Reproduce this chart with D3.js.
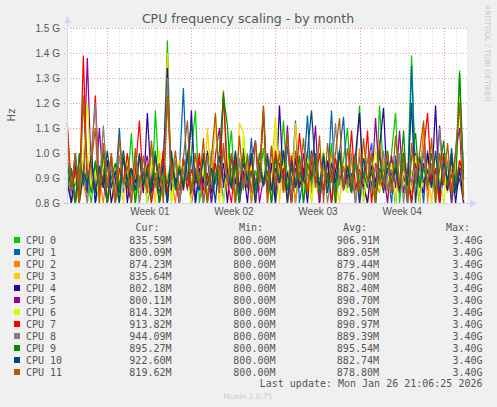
<!DOCTYPE html>
<html>
<head>
<meta charset="utf-8">
<script src="https://cdn.jsdelivr.net/npm/d3@7"></script>
<style>
  html, body { margin: 0; padding: 0; background: #f0f0f0; }
  svg { display: block; }
  text { fill: #555; }
</style>
</head>
<body>
<svg></svg>
<script>
// legend names and the summary numbers shown under the graph
const cpuNames = ["CPU 0","CPU 1","CPU 2","CPU 3","CPU 4","CPU 5","CPU 6","CPU 7","CPU 8","CPU 9","CPU 10","CPU 11"];
const curVals = ["835.59M","800.09M","874.23M","835.64M","802.18M","800.11M","814.32M","913.82M","944.09M","895.27M","922.60M","819.62M"];
const minVals = ["800.00M","800.00M","800.00M","800.00M","800.00M","800.00M","800.00M","800.00M","800.00M","800.00M","800.00M","800.00M"];
const avgVals = ["906.91M","889.05M","879.44M","876.90M","882.40M","890.70M","892.50M","890.97M","889.39M","895.54M","882.74M","878.80M"];
const maxVals = ["3.40G","3.40G","3.40G","3.40G","3.40G","3.40G","3.40G","3.40G","3.40G","3.40G","3.40G","3.40G"];
const colors = ["#00cc00","#0066b3","#ff8000","#ffcc00","#330099","#990099","#ccff00","#ff0000","#808080","#008f00","#00487d","#b35a00"];
const yTicks = [0.8e9, 0.9e9, 1.0e9, 1.1e9, 1.2e9, 1.3e9, 1.4e9, 1.5e9];

// samples every 8h from Dec 24 16:00 UTC, in MHz
const sampleStart = Date.UTC(2025, 11, 24, 16, 0);
const sampleStep = 8 * 3600 * 1000;

const cpu0 = [850,920,800,880,1230,900,800,960,840,1010, 800,940,870,800,990,860,1080,800,910,850,
  960,800,1170,880,930,1450,840,990,800,900, 870,1000,1170,800,920,800,1010,880,860,1250,
  940,1090,800,970,850,1000,800,930,880,1020, 840,960,800,910,1130,870,990,800,950,880,
  1010,840,930,800,980,860,1040,800,900,970, 1100,850,940,1190,800,990,880,800,1190,920,
  860,1000,1160,800,950,880,1390,900,800,1010, 870,940,800,1000,880,960,800,900,1330,836];
const cpu1 = [920,800,890,800,970,850,1000,800,880,940, 800,960,870,1100,840,910,800,990,860,930,
  800,880,1000,840,900,800,970,860,930,1260, 850,990,800,920,870,1010,800,900,950,800,
  980,860,900,800,1020,880,1060,800,940,870, 1000,800,900,960,840,1030,870,1130,800,910,
  1150,850,980,800,930,870,1170,840,1000,1145, 860,920,800,990,880,950,1040,800,1000,870,
  940,800,990,860,910,800,1350,880,950,800, 1010,870,930,800,980,860,1020,840,900,800];
const cpu2 = [1000,860,800,940,880,800,970,850,900,800, 950,870,800,920,1000,840,890,960,800,880,
  930,850,990,800,870,1200,900,800,960,860, 1010,800,890,940,800,980,870,1150,840,920,
  860,1000,800,930,880,960,800,900,850,1160, 800,940,880,1010,840,900,970,800,930,870,
  990,850,910,800,960,880,1000,800,940,860, 900,970,800,1020,870,800,950,890,840,980,
  860,930,800,990,880,920,840,1000,870,1100, 800,960,890,800,1000,850,930,880,970,874];
const cpu3 = [830,900,960,800,880,1000,850,920,800,970, 870,800,940,890,800,990,860,930,840,900,
  880,950,800,1000,860,1400,800,910,970,850, 920,840,990,870,800,1100,880,950,800,1010,
  860,900,800,1120,1080,850,930,800,960,1190, 870,940,1145,800,990,880,800,1120,900,860,
  950,800,1000,870,930,840,980,900,800,960, 880,1010,840,920,860,990,800,940,870,1000,
  800,910,960,850,1020,880,930,800,970,860, 940,800,1000,880,900,840,990,860,920,836];
const cpu4 = [880,800,950,870,910,840,1000,800,930,860, 970,800,900,850,1010,800,940,880,990,840,
  1160,870,920,800,960,1340,850,900,800,980, 860,1170,800,940,880,1000,840,910,870,960,
  800,990,880,850,930,800,1000,870,900,1170, 840,960,800,1190,880,920,800,980,860,940,
  800,1010,880,900,850,970,800,930,1000,860, 910,840,990,1160,870,800,950,880,1020,1180,
  850,930,800,1000,870,940,800,960,890,840, 1000,870,1190,800,910,850,980,800,940,802];
const cpu5 = [860,930,800,990,870,1380,900,840,1100,880, 800,960,890,840,1000,870,800,950,880,920,
  990,840,900,870,1010,800,960,880,930,850, 1000,800,890,970,850,920,800,990,1100,860,
  940,880,1000,800,910,860,970,1050,800,900, 870,1020,840,960,880,1110,800,940,870,1000,
  850,910,1110,800,980,870,920,800,990,880, 940,860,1000,800,900,970,850,1140,880,920,
  800,990,860,1090,840,930,880,1000,800,960, 870,910,840,1110,890,960,800,1000,1100,800];
const cpu6 = [940,850,900,800,980,1200,870,930,800,960, 880,1000,840,910,860,990,800,950,870,900,
  800,970,890,1010,850,920,800,980,860,940, 880,800,1000,870,930,840,960,1120,890,800,
  990,860,920,840,1080,880,950,800,1000,870, 910,840,1120,890,960,800,1000,870,920,850,
  980,800,940,880,1010,860,900,800,970,890, 840,1000,870,930,800,960,890,1020,850,920,
  880,960,800,1000,870,910,850,990,800,940, 890,1000,860,920,800,980,870,940,1220,814];
const cpu7 = [1120,860,930,800,1390,880,960,1230,840,910, 870,990,800,940,880,1000,850,920,1130,860,
  950,800,900,870,1010,840,960,890,800,980, 860,930,880,1000,800,910,870,960,840,1240,
  890,800,970,860,1000,880,930,800,960,870, 920,850,1010,880,940,800,990,870,1080,900,
  840,970,880,1000,860,920,800,980,890,940, 870,1090,850,930,880,1090,800,960,900,850,
  1000,870,930,840,980,890,800,960,870,1010, 1160,880,940,800,1000,870,910,850,970,914];
const cpu8 = [900,840,980,870,930,800,1000,1200,860,1110, 880,950,800,990,870,910,850,1000,800,940,
  890,1010,860,930,840,1300,880,970,800,920, 1000,860,940,880,800,990,870,920,850,1010,
  880,940,800,980,860,920,1000,840,900,870, 970,800,930,880,1010,850,940,870,990,800,
  920,880,1000,850,960,800,910,1120,870,940, 860,1000,800,920,880,980,840,950,870,1010,
  850,930,890,1000,800,960,870,940,880,1020, 860,950,800,1100,880,970,850,1000,1200,944];
const cpu9 = [870,940,800,1000,880,920,840,970,860,1010, 800,900,960,850,1000,870,930,800,990,880,
  940,860,1010,800,910,880,980,850,950,870, 1000,840,920,870,980,800,940,890,1010,1230,
  1110,860,950,800,990,880,920,850,1000,870, 930,800,980,880,1010,850,940,870,990,800,
  960,890,1000,840,1000,880,930,800,1010,870, 950,840,990,880,920,860,1000,800,940,890,
  1010,850,960,870,1090,800,980,1080,860,940, 880,1000,850,930,1050,870,990,840,1320,895];
const cpu10 = [960,850,1000,800,920,880,990,840,950,870, 1010,860,930,800,980,890,940,850,1000,870,
  920,840,990,880,950,800,1010,870,930,860, 980,1120,900,850,1000,870,940,800,990,880,
  930,860,1010,840,960,890,1000,800,950,870, 990,850,940,880,1010,800,970,860,920,890,
  1000,1170,930,870,990,840,960,880,1010,850, 940,870,1000,800,980,890,920,860,1010,840,
  970,880,940,850,1000,870,1200,800,990,880, 930,860,1010,840,960,890,1000,850,940,923];
const cpu11 = [1080,850,1000,800,1220,900,960,1100,800,1040, 870,1000,800,1060,880,950,800,1020,860,990,
  840,1050,870,960,800,1230,890,1010,850,980, 1130,840,1000,870,1060,800,980,1160,860,1040,
  880,1000,800,1070,860,990,840,1050,880,1190, 800,1030,870,1000,850,1080,800,1010,890,1060,
  840,1000,860,1070,800,1040,880,1000,1140,850, 1020,870,990,840,1060,880,1000,800,1050,860,
  1000,840,1070,870,990,800,1040,880,1000,1130, 850,1060,800,1000,870,1040,840,1010,1200,820];

const cpuSeries = [cpu0, cpu1, cpu2, cpu3, cpu4, cpu5, cpu6, cpu7, cpu8, cpu9, cpu10, cpu11];

const width = 497;
const height = 407;
const plotLeft = 67, plotRight = 467, plotTop = 28, plotBottom = 203;

const svg = d3.select("svg")
   .attr("width", width)
   .attr("height", height)
   .style("font-family", "'DejaVu Sans', sans-serif");

svg.append("rect").attr("width", width).attr("height", height).attr("fill", "#f0f0f0");
svg.append("rect")
   .attr("x", plotLeft).attr("y", plotTop)
   .attr("width", plotRight - plotLeft).attr("height", plotBottom - plotTop)
   .attr("fill", "#ffffff");

const x = d3.scaleUtc()
   .domain([new Date(Date.UTC(2025, 11, 24, 15, 22)), new Date(Date.UTC(2026, 0, 26, 22, 48))])
   .range([plotLeft, plotRight]);

const y = d3.scaleLinear()
   .domain([0.8e9, 1.5e9])
   .range([plotBottom, plotTop]);

const isSunday = d => d3.utcSunday.floor(d) - d === 0;

// vertical grid: every day grey, every sunday red
const days = d3.utcDay.range(x.domain()[0], x.domain()[1]);
svg.append("g").selectAll("line")
   .data(days)
   .join("line")
   .attr("x1", d => Math.round(x(d)) + 0.5)
   .attr("x2", d => Math.round(x(d)) + 0.5)
   .attr("y1", plotTop)
   .attr("y2", d => plotBottom + (isSunday(d) ? 2 : 0))
   .attr("stroke", d => isSunday(d) ? "#e4a0a0" : "#d8d8d8")
   .attr("stroke-dasharray", "1,2");

// horizontal grid
svg.append("g").selectAll("line")
   .data(yTicks)
   .join("line")
   .attr("x1", plotLeft - 3)
   .attr("x2", plotRight)
   .attr("y1", d => Math.round(y(d)) + 0.5)
   .attr("y2", d => Math.round(y(d)) + 0.5)
   .attr("stroke", "#e4a0a0")
   .attr("stroke-dasharray", "1,2");

// the cpu lines, CPU 0 first so CPU 11 ends up on top
const line = d3.line()
   .x((d, i) => x(new Date(sampleStart + i * sampleStep)))
   .y(d => y(d * 1e6));

const plot = svg.append("g");
cpuSeries.forEach((s, k) => {
   plot.append("path")
      .attr("d", line(s))
      .attr("fill", "none")
      .attr("stroke", colors[k])
      .attr("stroke-width", 1.25);
});

// axes
const yAxis = svg.append("g")
   .attr("transform", `translate(${plotLeft - 4},0)`)
   .call(d3.axisLeft(y).tickValues(yTicks).tickSize(0).tickPadding(3)
      .tickFormat(d => (d / 1e9).toFixed(1) + " G"));
yAxis.select(".domain").remove();
yAxis.selectAll("text").attr("font-size", 10).attr("fill", "#555");

const weekMids = d3.utcSunday.range(d3.utcSunday.offset(x.domain()[0], -1), x.domain()[1])
   .map(d => d3.utcHour.offset(d, 84))
   .filter(d => d > x.domain()[0] && d < x.domain()[1]);
const xAxis = svg.append("g")
   .attr("transform", `translate(0,${plotBottom})`)
   .call(d3.axisBottom(x).tickValues(weekMids).tickSize(0).tickPadding(5)
      .tickFormat(d3.utcFormat("Week %V")));
xAxis.select(".domain").remove();
xAxis.selectAll("text").attr("font-size", 10).attr("fill", "#555");

const axisColor = "#cfd6f8";
svg.append("line").attr("x1", plotLeft + 0.5).attr("x2", plotLeft + 0.5).attr("y1", plotBottom + 2).attr("y2", plotTop - 6)
   .attr("stroke", axisColor);
svg.append("line").attr("x1", plotLeft - 2).attr("x2", plotRight + 5).attr("y1", plotBottom + 0.5).attr("y2", plotBottom + 0.5)
   .attr("stroke", axisColor);
svg.append("path").attr("d", `M${plotLeft - 3},${plotTop - 5} L${plotLeft + 0.5},${plotTop - 12} L${plotLeft + 4},${plotTop - 5} Z`)
   .attr("fill", axisColor);
svg.append("path").attr("d", `M${plotRight + 3},${plotBottom - 3.5} L${plotRight + 10},${plotBottom + 0.5} L${plotRight + 3},${plotBottom + 4.5} Z`)
   .attr("fill", axisColor);

// titles
svg.append("text")
   .attr("x", 248).attr("y", 23)
   .attr("text-anchor", "middle")
   .attr("font-size", 12.5)
   .attr("fill", "#555")
   .text("CPU frequency scaling - by month");

svg.append("text")
   .attr("transform", "translate(15,115) rotate(-90)")
   .attr("text-anchor", "middle")
   .attr("font-size", 10)
   .attr("fill", "#555")
   .text("Hz");

svg.append("text")
   .attr("transform", "translate(485,5) rotate(90)")
   .attr("font-size", 7.5)
   .style("fill", "#c8c8c8")
   .text("RRDTOOL / TOBI OETIKER");

// legend table
const mono = "'DejaVu Sans Mono', monospace";
const legend = svg.append("g").style("font-family", mono).attr("font-size", 10);
const headers = [["Cur:", 159.5], ["Min:", 263], ["Avg:", 367], ["Max:", 470]];
headers.forEach(([h, hx]) => {
   legend.append("text").attr("x", hx).attr("y", 231).attr("text-anchor", "end").text(h);
});

const rows = legend.selectAll("g.row")
   .data(cpuNames)
   .join("g")
   .attr("class", "row")
   .attr("transform", (d, i) => `translate(0,${244 + i * 12})`);

rows.append("rect")
   .attr("x", 14).attr("y", -7)
   .attr("width", 6).attr("height", 6)
   .attr("fill", (d, i) => colors[i]);
rows.append("text").attr("x", 26).text(d => d);
[[curVals, 171.5], [minVals, 275.5], [avgVals, 379], [maxVals, 482.5]].forEach(([vals, vx]) => {
   rows.append("text").attr("x", vx).attr("text-anchor", "end").text((d, i) => vals[i]);
});

legend.append("text")
   .attr("x", 482.5).attr("y", 387)
   .attr("text-anchor", "end")
   .text("Last update: Mon Jan 26 21:06:25 2026");

svg.append("text")
   .attr("x", 248).attr("y", 399)
   .attr("text-anchor", "middle")
   .attr("font-size", 7.5)
   .style("fill", "#cccccc")
   .text("Munin 2.0.75");
</script>
</body>
</html>
